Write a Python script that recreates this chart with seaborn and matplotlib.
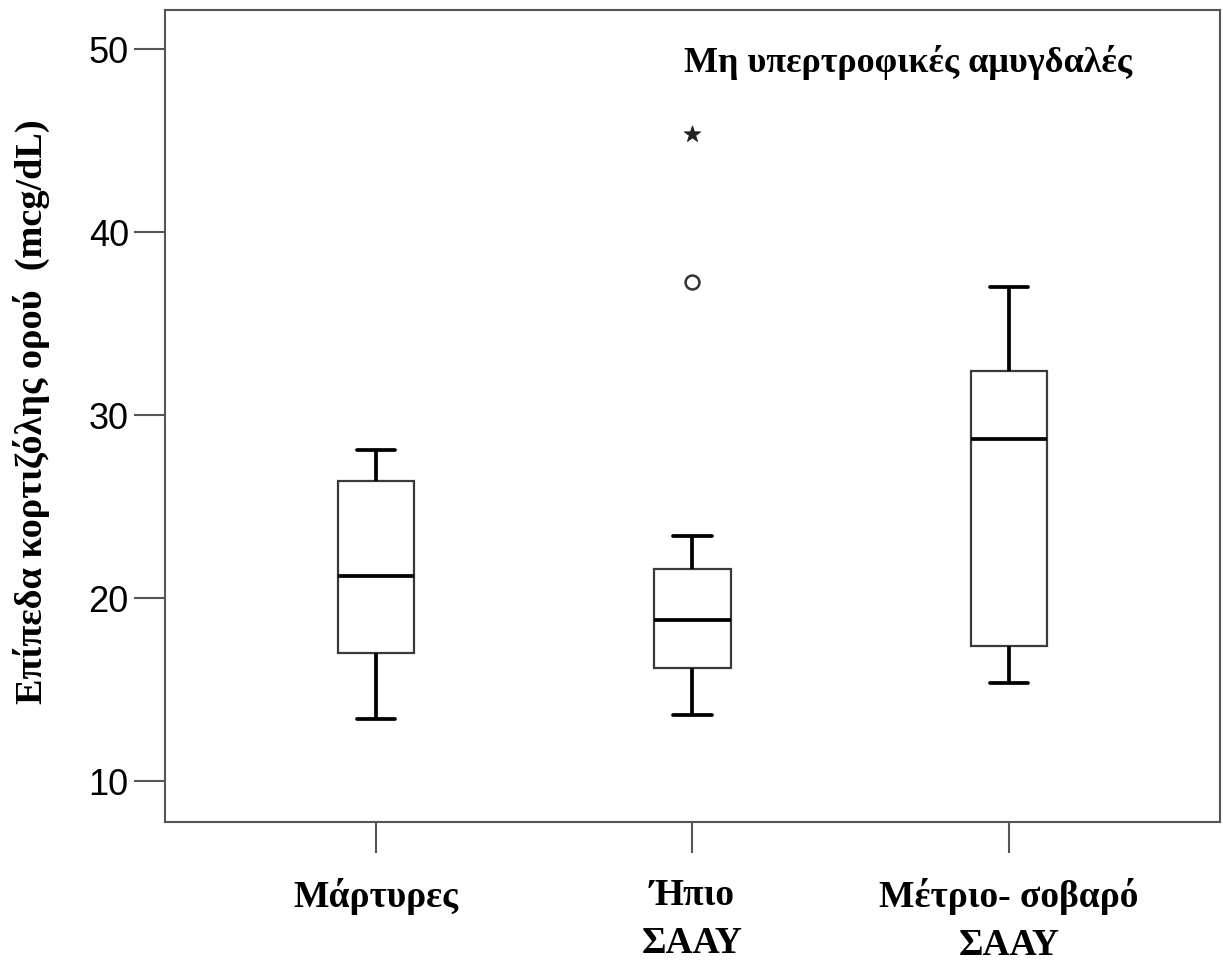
import matplotlib
matplotlib.use('Agg')
import matplotlib.pyplot as plt
import pandas as pd
import seaborn as sns

# groups and box summaries (mcg/dL)
groups = ['Μάρτυρες', 'Ήπιο\nΣΑΑΥ', 'Μέτριο- σοβαρό\nΣΑΑΥ']
whisker_low = [13.4, 13.6, 15.4]
q1 = [17.0, 16.2, 17.4]
median = [21.2, 18.8, 28.7]
q3 = [26.4, 21.6, 32.4]
whisker_high = [28.1, 23.4, 37.0]

# outliers of the second group (circle = outlier, star = extreme)
circle_group = ['Ήπιο\nΣΑΑΥ']
circle_value = [37.3]
star_group = ['Ήπιο\nΣΑΑΥ']
star_value = [45.4]

y_ticks = [10, 20, 30, 40, 50]

# long form table: the five summary values of each group
rows = []
for i, g in enumerate(groups):
    for v in (whisker_low[i], q1[i], median[i], q3[i], whisker_high[i]):
        rows.append((g, v))
df = pd.DataFrame(rows, columns=['group', 'value'])
df_circle = pd.DataFrame({'group': circle_group, 'value': circle_value})
df_star = pd.DataFrame({'group': star_group, 'value': star_value})

sns.set_style('white')
plt.rcParams['font.family'] = ['Liberation Sans', 'DejaVu Sans']
plt.rcParams['text.color'] = 'black'
plt.rcParams['xtick.labelcolor'] = 'black'
plt.rcParams['ytick.labelcolor'] = 'black'

fig = plt.figure(figsize=(12.23, 9.65), dpi=100)
ax = fig.add_axes([0.1349, 0.1482, 0.8626, 0.8414])

sns.boxplot(data=df, x='group', y='value', order=groups, ax=ax,
            width=0.242, color='white', linecolor='#3a3a3a', linewidth=1.6,
            whis=(0, 100), showfliers=False,
            medianprops=dict(color='black', linewidth=2.7),
            whiskerprops=dict(color='black', linewidth=2.7),
            capprops=dict(color='black', linewidth=2.7))

sns.stripplot(data=df_circle, x='group', y='value', order=groups, ax=ax,
              jitter=False, marker='o', size=10, color='white',
              edgecolor='#333333', linewidth=1.8)
sns.stripplot(data=df_star, x='group', y='value', order=groups, ax=ax,
              jitter=False, marker='*', size=12, color='#222222',
              edgecolor='#222222', linewidth=0.8)

ax.set_xlim(-0.667, 2.667)
ax.set_ylim(7.78, 52.15)
ax.set_yticks(y_ticks)
ax.set_yticklabels([str(t) for t in y_ticks], fontsize=26, color='black')
ax.set_xticks(range(len(groups)))
ax.set_xticklabels(groups, fontsize=27, fontweight='bold', color='black',
                   family=['Liberation Serif', 'DejaVu Serif'], linespacing=1.5)
ax.set_xlabel('')
ax.set_ylabel('')

for sp in ax.spines.values():
    sp.set_visible(True)
    sp.set_color('#555555')
    sp.set_linewidth(1.5)
ax.tick_params(axis='both', direction='out', length=22, width=1.5, color='#555555')
ax.tick_params(axis='y', pad=4, left=True)
ax.tick_params(axis='x', pad=18, bottom=True)

ax.text(0.7047, 0.9236, 'Μη υπερτροφικές αμυγδαλές', transform=ax.transAxes,
        ha='center', va='baseline', fontsize=26, fontweight='bold',
        family=['Liberation Serif', 'DejaVu Serif'])

fig.text(31 / 1223, 0.573, 'Επίπεδα κορτιζόλης ορού  (mcg/dL)', rotation=90,
         ha='center', va='center', fontsize=27.5, fontweight='bold',
         family=['Liberation Serif', 'DejaVu Serif'])

fig.savefig('out.png', dpi=100, facecolor='white')
